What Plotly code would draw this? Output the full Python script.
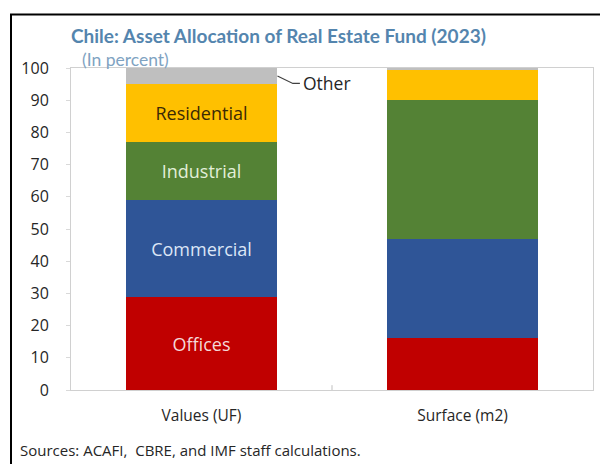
import plotly.graph_objects as go

# Categories on the x axis
categories = ["Values (UF)", "Surface (m2)"]

# Segment shares (percent), bottom to top
segments = ["Offices", "Commercial", "Industrial", "Residential", "Other"]
offices = [29, 16]
commercial = [30, 31]
industrial = [18, 43]
residential = [18, 9.6]
other = [5, 0.4]

series_values = [offices, commercial, industrial, residential, other]
colors = ["#C00000", "#2F5597", "#548235", "#FFC000", "#BFBFBF"]
label_colors = ["#F4D9D9", "#DCE6F6", "#E2EFD9", "#3B2A05", "#404040"]

y_ticks = list(range(0, 101, 10))

W, H = 600, 464
ML, MR, MT, MB = 71, 7, 68, 74
PW, PH = W - ML - MR, H - MT - MB

FONT = "Open Sans"
TITLE_FONT = "Lato"
BAR_WIDTH = 0.582

fig = go.Figure()
for name, vals, col, lcol in zip(segments, series_values, colors, label_colors):
    # in-bar labels only on the first column, "Other" gets a call-out instead
    txt = [name if name != "Other" else "", ""]
    fig.add_trace(go.Bar(
        x=categories, y=vals, name=name,
        marker=dict(color=col, line=dict(width=0)),
        width=BAR_WIDTH,
        text=txt, textposition="inside", insidetextanchor="middle",
        textangle=0, constraintext="none",
        textfont=dict(family=FONT, size=18, color=lcol),
        hoverinfo="name+y",
    ))

# call-out line for "Other" on the first column
other_mid = sum(s[0] for s in series_values[:-1]) + other[0] / 2
bar_edge = BAR_WIDTH / 2
elbow_x, elbow_y = 0.35, other_mid - 2.3
end_x = 0.377
shapes = [
    dict(type="path", xref="x", yref="y",
         path=f"M {bar_edge},{other_mid} L {elbow_x},{elbow_y} L {end_x},{elbow_y}",
         line=dict(color="#404040", width=1.2)),
    # category separator tick
    dict(type="line", xref="x", yref="y", x0=0.5, x1=0.5, y0=0, y1=1.5,
         line=dict(color="#BFBFBF", width=1)),
    # outer frame (top and left edges visible)
    dict(type="rect", xref="paper", yref="paper",
         x0=(11 - ML) / PW, x1=(610 - ML) / PW,
         y0=(PH + MT - 475) / PH, y1=(PH + MT - 14.5) / PH,
         line=dict(color="black", width=2), layer="above"),
]

annotations = [
    dict(xref="x", yref="y", x=end_x + 0.005, y=elbow_y, text="Other",
         showarrow=False, xanchor="left", yanchor="middle",
         font=dict(family=FONT, size=17.5, color="#262626")),
    dict(xref="paper", yref="paper", x=(69 - ML) / PW, y=(PH + MT - 35) / PH,
         text="<b>Chile: Asset Allocation of Real Estate Fund (2023)</b>",
         showarrow=False, xanchor="left", yanchor="middle",
         font=dict(family=TITLE_FONT, size=19, color="#5485AE")),
    dict(xref="paper", yref="paper", x=(80 - ML) / PW, y=(PH + MT - 60) / PH,
         text="(In percent)",
         showarrow=False, xanchor="left", yanchor="middle",
         font=dict(family=TITLE_FONT, size=17.5, color="#7FA3C2")),
    dict(xref="paper", yref="paper", x=(18 - ML) / PW, y=(PH + MT - 450) / PH,
         text="Sources: ACAFI,  CBRE, and IMF staff calculations.",
         showarrow=False, xanchor="left", yanchor="middle",
         font=dict(family=FONT, size=15, color="#262626")),
]

fig.update_layout(
    width=W, height=H,
    margin=dict(l=ML, r=MR, t=MT, b=MB, pad=0),
    barmode="stack",
    bargap=0,
    showlegend=False,
    paper_bgcolor="white",
    plot_bgcolor="white",
    font=dict(family=FONT, color="#404040"),
    shapes=shapes,
    annotations=annotations,
    xaxis=dict(
        range=[-0.5, 1.5], showgrid=False, zeroline=False,
        showline=True, mirror=True, linecolor="#D0D0D0", linewidth=1,
        ticks="", tickfont=dict(family=FONT, size=15.5, color="#262626"),
        ticklabelstandoff=11,
    ),
    yaxis=dict(
        range=[0, 100], tickvals=y_ticks, showgrid=False, zeroline=False,
        showline=True, mirror=True, linecolor="#D0D0D0", linewidth=1,
        ticks="outside", ticklen=4, tickcolor="#D9D9D9",
        tickfont=dict(family=FONT, size=16, color="#262626"),
        ticklabelstandoff=14,
    ),
)

fig.write_html("out.html")
